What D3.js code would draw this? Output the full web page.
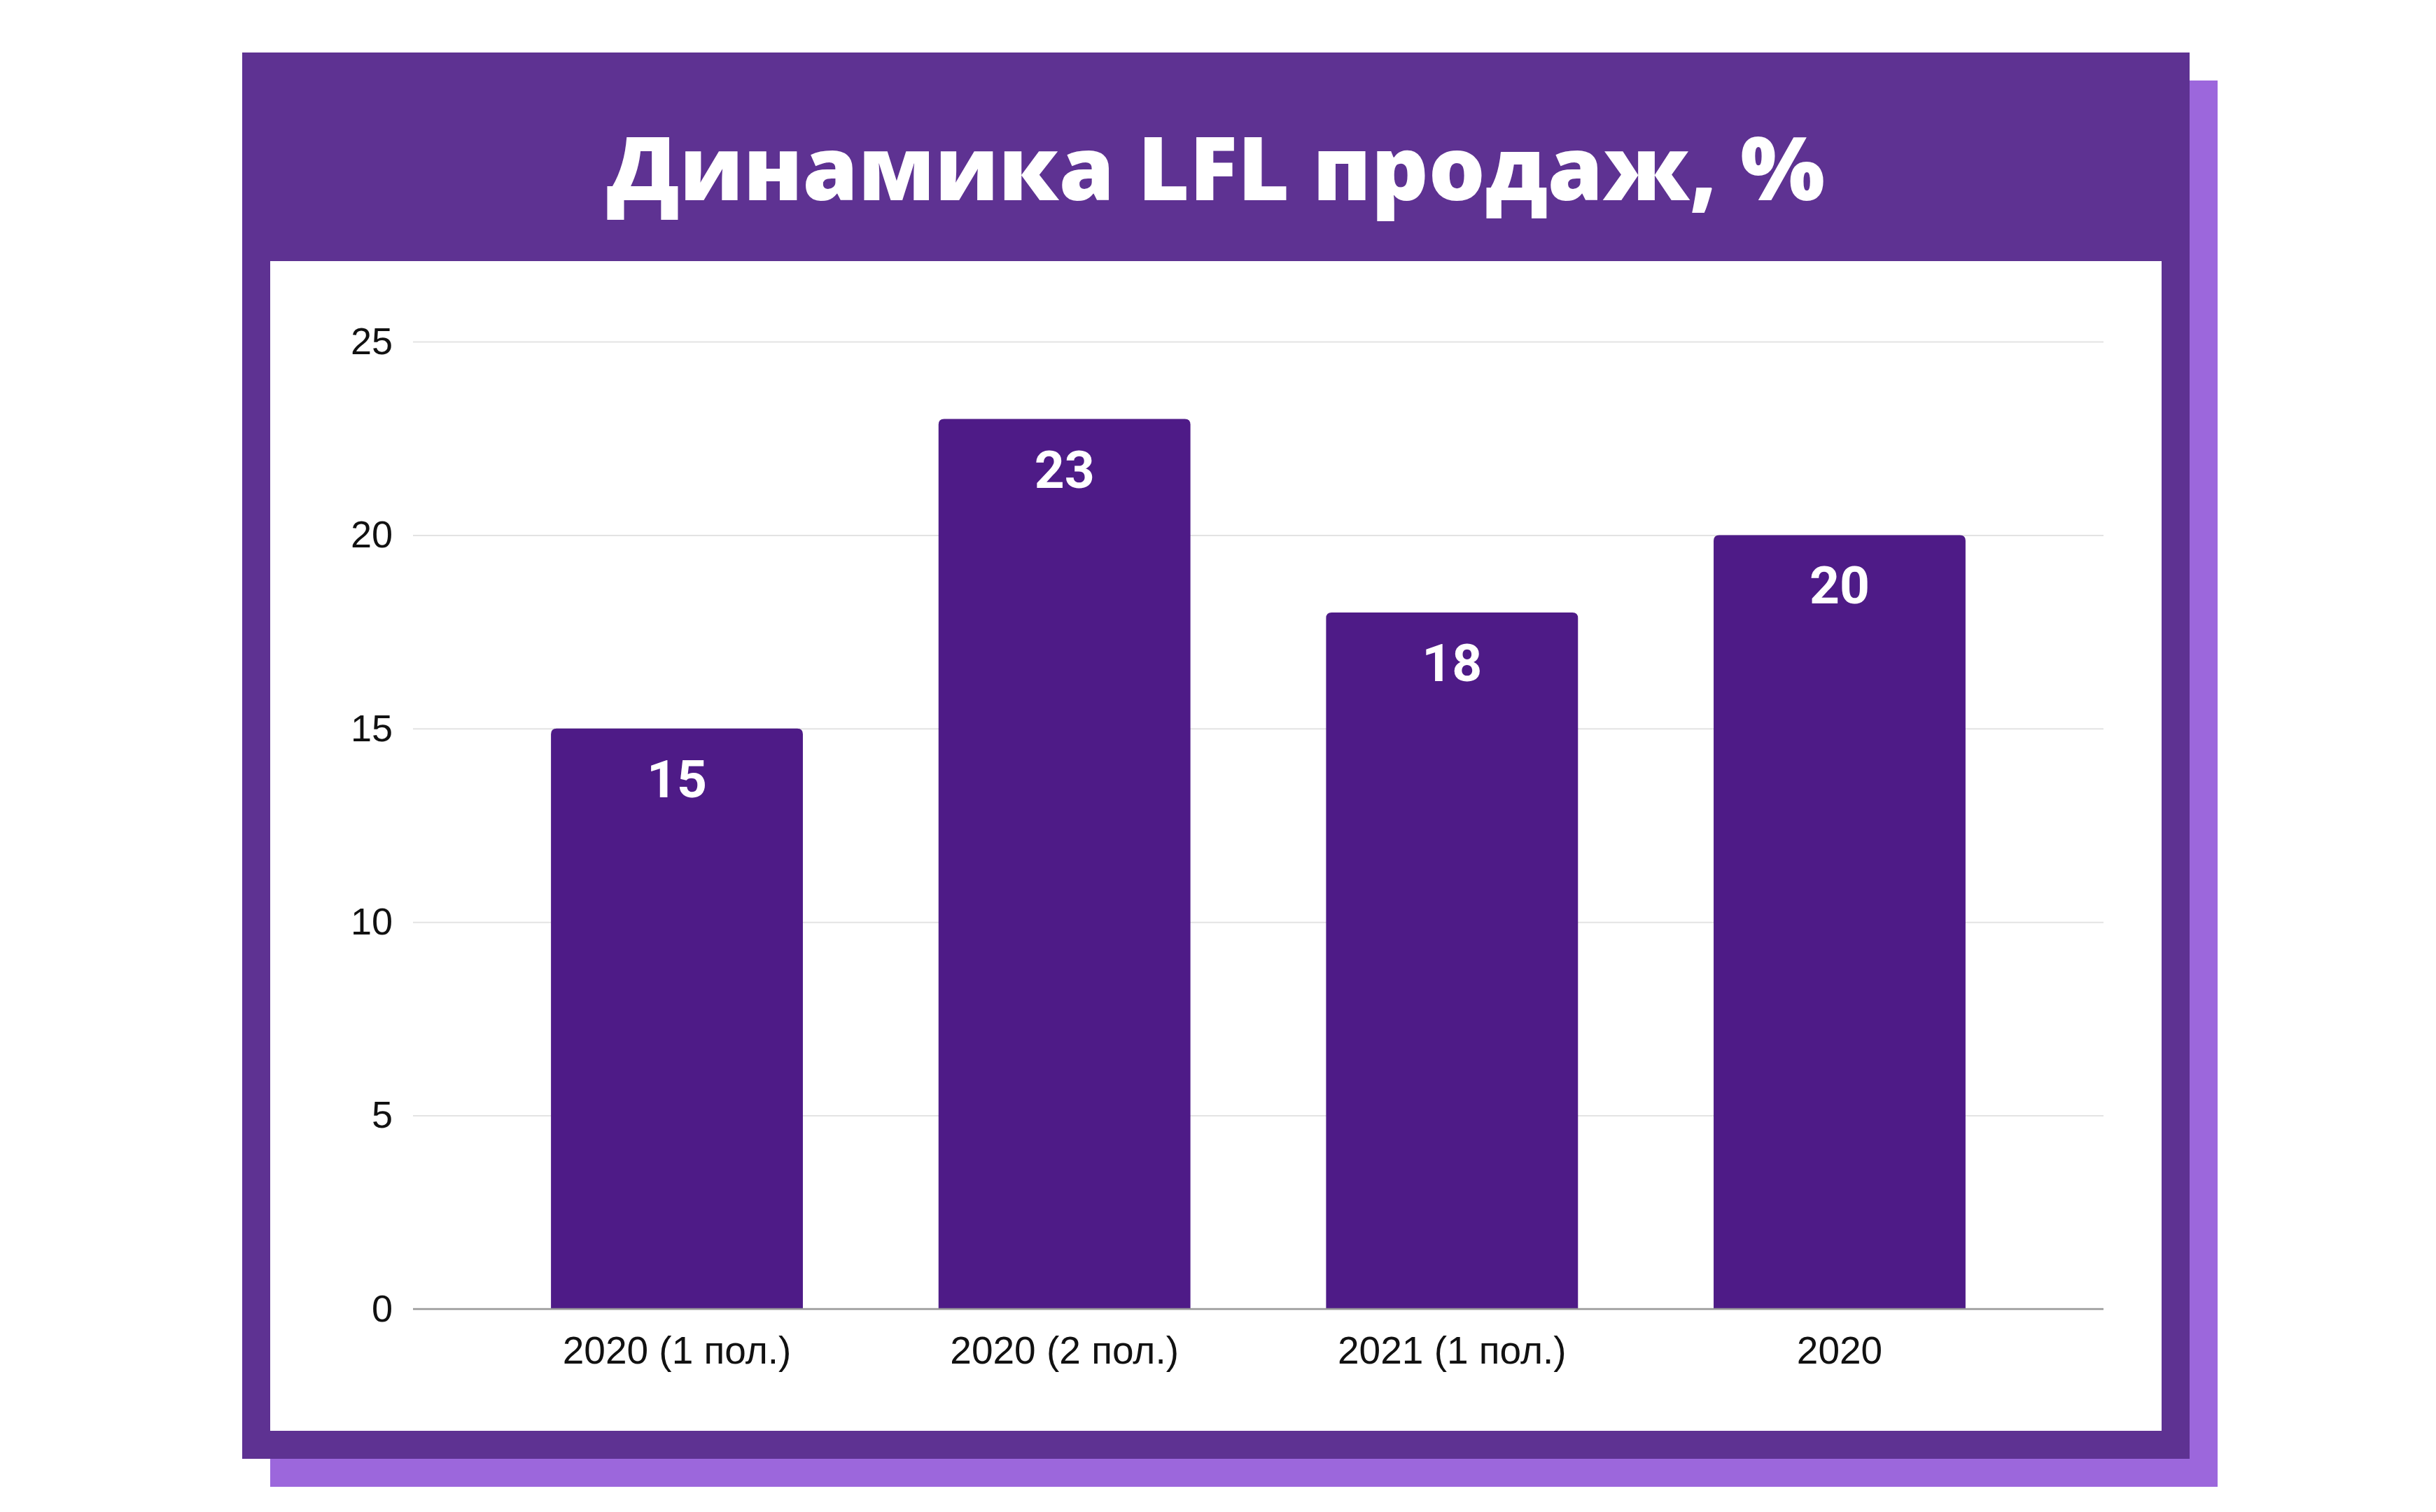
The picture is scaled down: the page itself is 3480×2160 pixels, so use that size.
<!DOCTYPE html>
<html><head><meta charset="utf-8">
<script src="https://cdn.jsdelivr.net/npm/d3@7"></script>
<style>html,body{margin:0;padding:0;background:#fff;}</style>
</head><body>
<script>
const title = "Динамика LFL продаж, %";
const categories = ["2020 (1 пол.)", "2020 (2 пол.)", "2021 (1 пол.)", "2020"];
const values = [15, 23, 18, 20];
const yTicks = [0, 5, 10, 15, 20, 25];

const W = 3480, H = 2160;
const svg = d3.select("body").append("svg").attr("width", W).attr("height", H)
  .style("display","block");

// frame
svg.append("rect").attr("x",386).attr("y",115).attr("width",2782).attr("height",2009).attr("fill","#9C67DC");
svg.append("rect").attr("x",346).attr("y",75).attr("width",2782).attr("height",2009).attr("fill","#5E3292");
svg.append("rect").attr("x",386).attr("y",373).attr("width",2702).attr("height",1671).attr("fill","#ffffff");

svg.append("text").attr("x",1737).attr("y",286).attr("text-anchor","middle")
  .attr("font-family","'Open Sans', 'DejaVu Sans', sans-serif").attr("font-weight",800)
  .attr("font-size",126).attr("fill","#ffffff")
  .attr("textLength",1740).attr("lengthAdjust","spacingAndGlyphs")
  .text(title);

const x = d3.scaleBand().domain(categories).range([590, 3005]).paddingInner(0.35).paddingOuter(0.356);
const y = d3.scaleLinear().domain([0, 25]).range([1870, 488]);

// gridlines
const grid = svg.append("g").attr("transform","translate(590,0)")
  .call(d3.axisLeft(y).tickValues(yTicks).tickSize(-2415).tickFormat(""));
grid.select(".domain").remove();
grid.selectAll("line").attr("stroke","#e3e3e3").attr("stroke-width",2);

// y labels
const yl = svg.append("g").attr("transform","translate(561,0)")
  .call(d3.axisLeft(y).tickValues(yTicks).tickSize(0).tickPadding(0));
yl.select(".domain").remove();
yl.selectAll("text").attr("font-family","'Liberation Sans', Arial, sans-serif")
  .attr("font-size",54).attr("fill","#111");

// bars with rounded top corners
const r = 8;
svg.append("g").selectAll("path").data(values).join("path")
  .attr("fill","#4E1B87")
  .attr("d",(d,i)=>{
    const x0 = x(categories[i]), x1 = x0 + x.bandwidth(), yt = y(d), yb = y(0);
    return `M${x0},${yb}V${yt+r}Q${x0},${yt} ${x0+r},${yt}H${x1-r}Q${x1},${yt} ${x1},${yt+r}V${yb}Z`;
  });

// x axis
const xa = svg.append("g").attr("transform","translate(0,1870)")
  .call(d3.axisBottom(x).tickSize(0).tickPadding(0));
xa.select(".domain").attr("d","M590,0H3005").attr("stroke","#999").attr("stroke-width",2.5);
xa.selectAll("text").attr("y",78).attr("dy",0)
  .attr("font-family","'Liberation Sans', Arial, sans-serif").attr("font-size",55).attr("fill","#111");

// value labels
svg.append("g").selectAll("text").data(values).join("text")
  .attr("x",(d,i)=>x(categories[i]) + x.bandwidth()/2)
  .attr("y",d=>y(d)+98)
  .attr("text-anchor","middle")
  .attr("font-family","Roboto, sans-serif").attr("font-weight",700)
  .attr("font-size",75).attr("fill","#ffffff")
  .text(d=>d);
</script>
</body></html>
